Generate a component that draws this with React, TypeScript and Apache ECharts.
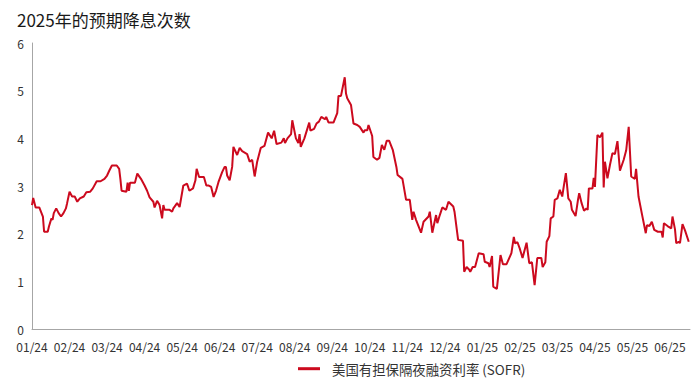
import React, { useEffect, useRef } from "react";
import * as echarts from "echarts";

const titleText = "2025年的预期降息次数";
const seriesName = "美国有担保隔夜融资利率 (SOFR)";
const monthLabels = [
  "01/24", "02/24", "03/24", "04/24", "05/24", "06/24", "07/24", "08/24", "09/24",
  "10/24", "11/24", "12/24", "01/25", "02/25", "03/25", "04/25", "05/25", "06/25",
];
const axisStart = "2024-01-01";
const axisEnd = "2025-06-17";

const dates = [
  "2024-01-01", "2024-01-02", "2024-01-04", "2024-01-07", "2024-01-10", "2024-01-11", "2024-01-14", "2024-01-15",
  "2024-01-17", "2024-01-18", "2024-01-19", "2024-01-21", "2024-01-23", "2024-01-25", "2024-01-27", "2024-01-29",
  "2024-01-30", "2024-02-01", "2024-02-03", "2024-02-05", "2024-02-07", "2024-02-09", "2024-02-12", "2024-02-14",
  "2024-02-17", "2024-02-19", "2024-02-22", "2024-02-25", "2024-02-28", "2024-03-01", "2024-03-03", "2024-03-05",
  "2024-03-09", "2024-03-11", "2024-03-12", "2024-03-13", "2024-03-17", "2024-03-18", "2024-03-19", "2024-03-20",
  "2024-03-24", "2024-03-26", "2024-03-29", "2024-04-01", "2024-04-03", "2024-04-05", "2024-04-08", "2024-04-09",
  "2024-04-11", "2024-04-13", "2024-04-15", "2024-04-16", "2024-04-17", "2024-04-21", "2024-04-23", "2024-04-24",
  "2024-04-27", "2024-04-29", "2024-05-02", "2024-05-05", "2024-05-06", "2024-05-07", "2024-05-10", "2024-05-12",
  "2024-05-13", "2024-05-15", "2024-05-19", "2024-05-21", "2024-05-23", "2024-05-25", "2024-05-27", "2024-05-29",
  "2024-05-31", "2024-06-03", "2024-06-05", "2024-06-06", "2024-06-07", "2024-06-09", "2024-06-11", "2024-06-12",
  "2024-06-15", "2024-06-17", "2024-06-19", "2024-06-23", "2024-06-25", "2024-06-27", "2024-06-29", "2024-07-01",
  "2024-07-04", "2024-07-07", "2024-07-10", "2024-07-13", "2024-07-15", "2024-07-17", "2024-07-21", "2024-07-23",
  "2024-07-24", "2024-07-26", "2024-07-29", "2024-07-30", "2024-08-02", "2024-08-04", "2024-08-05", "2024-08-06",
  "2024-08-09", "2024-08-13", "2024-08-14", "2024-08-17", "2024-08-19", "2024-08-21", "2024-08-23", "2024-08-26",
  "2024-08-27", "2024-08-29", "2024-09-02", "2024-09-05", "2024-09-06", "2024-09-08", "2024-09-11", "2024-09-12",
  "2024-09-13", "2024-09-16", "2024-09-18", "2024-09-21", "2024-09-23", "2024-09-26", "2024-09-27", "2024-09-29",
  "2024-09-30", "2024-10-03", "2024-10-04", "2024-10-07", "2024-10-09", "2024-10-11", "2024-10-13", "2024-10-15",
  "2024-10-17", "2024-10-20", "2024-10-23", "2024-10-24", "2024-10-27", "2024-10-28", "2024-10-31", "2024-11-03",
  "2024-11-05", "2024-11-06", "2024-11-08", "2024-11-12", "2024-11-14", "2024-11-18", "2024-11-19", "2024-11-21",
  "2024-11-24", "2024-11-25", "2024-11-27", "2024-11-29", "2024-12-02", "2024-12-04", "2024-12-08", "2024-12-09",
  "2024-12-12", "2024-12-16", "2024-12-17", "2024-12-19", "2024-12-21", "2024-12-22", "2024-12-24", "2024-12-26",
  "2024-12-29", "2025-01-02", "2025-01-03", "2025-01-06", "2025-01-07", "2025-01-09", "2025-01-10", "2025-01-13",
  "2025-01-16", "2025-01-18", "2025-01-21", "2025-01-25", "2025-01-27", "2025-01-28", "2025-01-30", "2025-02-01",
  "2025-02-03", "2025-02-06", "2025-02-08", "2025-02-10", "2025-02-12", "2025-02-14", "2025-02-17", "2025-02-18",
  "2025-02-20", "2025-02-21", "2025-02-23", "2025-02-24", "2025-02-26", "2025-02-27", "2025-03-01", "2025-03-03",
  "2025-03-05", "2025-03-06", "2025-03-08", "2025-03-10", "2025-03-12", "2025-03-13", "2025-03-16", "2025-03-18",
  "2025-03-19", "2025-03-21", "2025-03-23", "2025-03-25", "2025-03-26", "2025-03-27", "2025-03-30", "2025-03-31",
  "2025-04-01", "2025-04-03", "2025-04-05", "2025-04-07", "2025-04-08", "2025-04-09", "2025-04-11", "2025-04-13",
  "2025-04-15", "2025-04-17", "2025-04-19", "2025-04-21", "2025-04-24", "2025-04-26", "2025-04-28", "2025-04-30",
  "2025-05-03", "2025-05-04", "2025-05-06", "2025-05-09", "2025-05-12", "2025-05-13", "2025-05-15", "2025-05-17",
  "2025-05-19", "2025-05-22", "2025-05-25", "2025-05-26", "2025-05-27", "2025-05-30", "2025-06-02", "2025-06-03",
  "2025-06-05", "2025-06-06", "2025-06-08", "2025-06-09", "2025-06-11", "2025-06-13", "2025-06-16",
];

const values = [
  2.60, 2.75, 2.55, 2.55, 2.36, 2.04, 2.04, 2.15,
  2.32, 2.29, 2.43, 2.53, 2.43, 2.36, 2.43, 2.53,
  2.64, 2.88, 2.78, 2.78, 2.67, 2.74, 2.78, 2.87,
  2.88, 2.95, 3.10, 3.10, 3.15, 3.22, 3.33, 3.43,
  3.43, 3.36, 3.15, 2.90, 2.88, 3.07, 2.90, 3.07,
  3.07, 3.26, 3.15, 3.01, 2.90, 2.76, 2.67, 2.55,
  2.69, 2.60, 2.32, 2.60, 2.50, 2.50, 2.46, 2.53,
  2.64, 2.56, 3.01, 3.05, 2.98, 2.90, 2.95, 3.12,
  3.36, 3.19, 3.19, 3.01, 3.01, 2.98, 2.77, 2.90,
  3.08, 3.29, 3.40, 3.40, 3.22, 3.12, 3.40, 3.82,
  3.65, 3.80, 3.73, 3.67, 3.51, 3.55, 3.20, 3.51,
  3.80, 3.84, 4.12, 4.00, 4.16, 3.88, 3.91, 4.00,
  3.90, 4.00, 4.09, 4.38, 4.00, 3.90, 4.09, 3.82,
  4.00, 4.33, 4.16, 4.20, 4.31, 4.35, 4.45, 4.40,
  4.45, 4.33, 4.33, 4.53, 4.89, 4.89, 5.28, 4.94,
  4.84, 4.70, 4.31, 4.28, 4.24, 4.12, 4.17, 4.17,
  4.28, 4.05, 3.61, 3.55, 3.59, 3.86, 3.76, 3.95,
  3.95, 3.76, 3.40, 3.23, 3.17, 3.15, 2.71, 2.71,
  2.29, 2.46, 2.29, 2.02, 2.25, 2.36, 2.46, 2.02,
  2.39, 2.22, 2.39, 2.55, 2.50, 2.67, 2.57, 2.46,
  1.87, 1.85, 1.20, 1.30, 1.25, 1.20, 1.30, 1.30,
  1.59, 1.57, 1.41, 1.38, 1.30, 1.53, 0.89, 0.84,
  1.55, 1.36, 1.36, 1.59, 1.93, 1.80, 1.82, 1.68,
  1.49, 1.81, 1.38, 1.40, 0.92, 1.49, 1.49, 1.30,
  1.40, 1.83, 1.95, 2.32, 2.36, 2.71, 2.74, 2.92,
  2.78, 2.95, 3.27, 2.74, 2.67, 2.50, 2.37, 2.71,
  2.85, 2.64, 2.48, 2.53, 2.50, 2.95, 2.95, 3.17,
  2.98, 4.07, 4.02, 4.12, 2.97, 3.51, 3.16, 3.44,
  3.69, 3.67, 3.94, 3.32, 3.55, 3.75, 4.24, 3.20,
  3.15, 3.36, 2.78, 2.39, 2.01, 2.18, 2.16, 2.25,
  2.08, 2.04, 2.04, 1.92, 2.22, 2.16, 2.11, 2.36,
  2.09, 1.80, 1.83, 1.80, 2.20, 2.07, 1.83,
];

const yTicks = [0, 1, 2, 3, 4, 5, 6];

function monthPos(d: string): number {
  const [y, m, day] = d.split("-").map(Number);
  const [y0, m0] = axisStart.split("-").map(Number);
  const dim = new Date(y, m, 0).getDate();
  return (y - y0) * 12 + (m - m0) + (day - 1) / dim;
}

const FONT = "'Noto Sans CJK SC', 'Noto Sans', sans-serif";
const RED = "#cc0a1e";

export default function App() {
  const ref = useRef<HTMLDivElement>(null);
  useEffect(() => {
    document.body.style.margin = "0";
    if (!ref.current) return;
    const chart = echarts.init(ref.current, undefined, { renderer: "svg" });
    const data = dates.map((d, i) => [monthPos(d), values[i]]);
    chart.setOption({
      animation: false,
      backgroundColor: "#ffffff",
      textStyle: { fontFamily: FONT },
      title: {
        text: titleText,
        left: 12,
        top: 6,
        textStyle: { fontSize: 17, fontWeight: "normal", color: "#1a1a1a", fontFamily: FONT },
      },
      legend: {
        left: 293,
        top: 357,
        icon: "rect",
        itemWidth: 22,
        itemHeight: 3,
        textStyle: { fontSize: 13.4, color: "#333", fontFamily: FONT, padding: [0, 0, 0, 7] },
        data: [seriesName],
      },
      grid: { left: 32, right: 10, top: 43, bottom: 52, containLabel: false },
      xAxis: {
        type: "value",
        min: 0,
        max: monthPos(axisEnd),
        interval: 1,
        axisLine: { show: true, lineStyle: { color: "#a6a6a6", width: 1 } },
        axisTick: { show: false },
        splitLine: { show: false },
        axisLabel: {
          color: "#333",
          fontSize: 12,
          lineHeight: 12,
          fontFamily: FONT,
          margin: 11,
          showMaxLabel: false,
          formatter: (v: number) => (Number.isInteger(v) && monthLabels[v] ? monthLabels[v] : ""),
        },
      },
      yAxis: {
        type: "value",
        min: yTicks[0],
        max: yTicks[yTicks.length - 1],
        interval: 1,
        axisLine: { show: true, lineStyle: { color: "#a6a6a6", width: 1 } },
        axisTick: { show: false },
        splitLine: { show: false },
        axisLabel: { color: "#333", fontSize: 12, lineHeight: 12, fontFamily: FONT, margin: 8 },
      },
      series: [
        {
          name: seriesName,
          type: "line",
          data,
          showSymbol: false,
          symbol: "none",
          lineStyle: { color: RED, width: 2 },
          itemStyle: { color: RED },
        },
      ],
    });
    return () => chart.dispose();
  }, []);
  return <div ref={ref} style={{ width: 700, height: 381 }} />;
}
